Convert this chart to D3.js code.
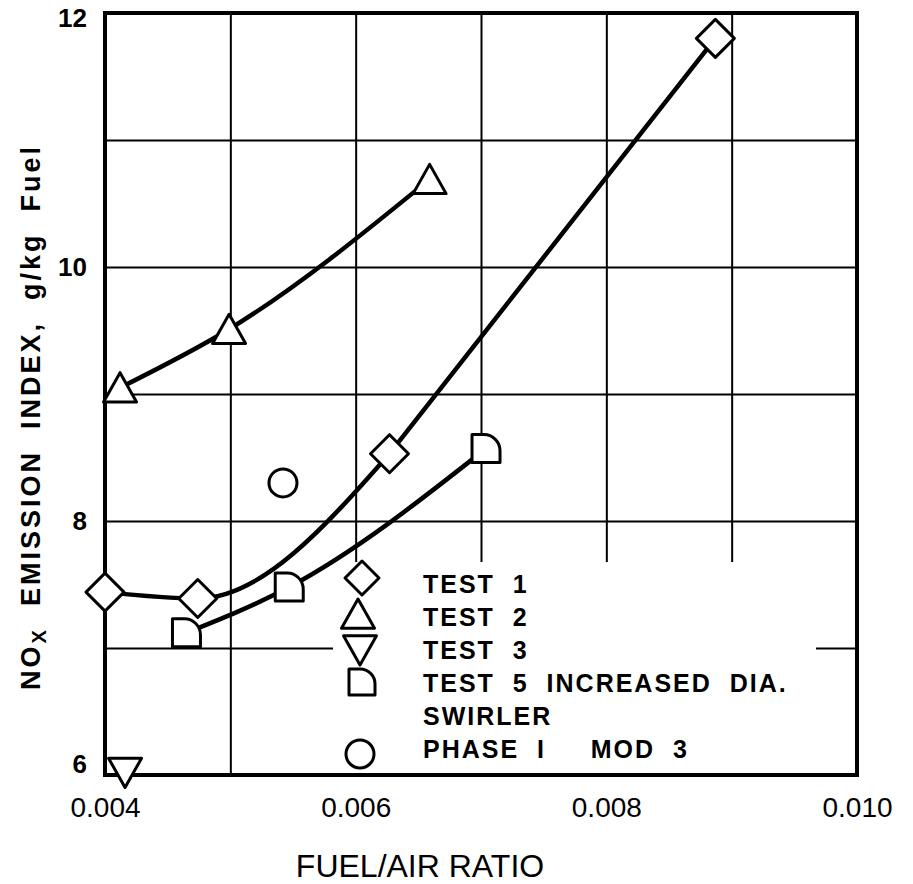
<!DOCTYPE html>
<html>
<head>
<meta charset="utf-8">
<script src="https://cdn.jsdelivr.net/npm/d3@7/dist/d3.min.js"></script>
<style>
  body { margin: 0; background: #fff; }
  text { font-family: "Liberation Sans", Arial, Helvetica, sans-serif; fill: #000; }
</style>
</head>
<body>
<svg id="chart" width="913" height="884"></svg>
<script>
// Fuel/air ratio vs NOx emission index (g/kg fuel)
const test1 = [ {far: 0.00400, ei: 7.44}, {far: 0.00474, ei: 7.39}, {far: 0.00627, ei: 8.53}, {far: 0.00887, ei: 11.80} ];
const test2 = [ {far: 0.00412, ei: 9.05}, {far: 0.00499, ei: 9.51}, {far: 0.00659, ei: 10.69} ];
const test3 = [ {far: 0.00416, ei: 6.02} ];
const test5 = [ {far: 0.00465, ei: 7.12}, {far: 0.00547, ei: 7.48}, {far: 0.00704, ei: 8.57} ];
const phase1Mod3 = [ {far: 0.00542, ei: 8.30} ];

const xGridValues = [0.004, 0.005, 0.006, 0.007, 0.008, 0.009, 0.010];
const xTickLabels = [0.004, 0.006, 0.008, 0.010];
const yGridValues = [6, 7, 8, 9, 10, 11, 12];
const yTickLabels = [6, 8, 10, 12];

const legendLabels = ["TEST  1", "TEST  2", "TEST  3", "TEST  5  INCREASED  DIA.", "SWIRLER", "PHASE  I     MOD  3"];

const svg = d3.select("#chart");
const plotL = 105, plotR = 857, plotT = 13, plotB = 775;

const x = d3.scaleLinear().domain([0.004, 0.010]).range([plotL, plotR]);
const y = d3.scaleLinear().domain([6, 12]).range([plotB, plotT]);

// grid
const grid = svg.append("g");
grid.append("g")
  .attr("transform", `translate(0,${plotB})`)
  .call(d3.axisBottom(x).tickValues(xGridValues).tickSize(-(plotB - plotT)).tickFormat(""))
  .call(g => g.select(".domain").remove())
  .call(g => g.selectAll("line").attr("stroke", "#000").attr("stroke-width", 2));
grid.append("g")
  .attr("transform", `translate(${plotL},0)`)
  .call(d3.axisLeft(y).tickValues(yGridValues).tickSize(-(plotR - plotL)).tickFormat(""))
  .call(g => g.select(".domain").remove())
  .call(g => g.selectAll("line").attr("stroke", "#000").attr("stroke-width", 2));

// legend panel masks the grid beneath it
svg.append("rect")
  .attr("x", 333).attr("y", 562).attr("width", 483).attr("height", plotB - 562)
  .attr("fill", "#fff");

// frame
svg.append("rect")
  .attr("x", plotL).attr("y", plotT).attr("width", plotR - plotL).attr("height", plotB - plotT)
  .attr("fill", "none").attr("stroke", "#000").attr("stroke-width", 4);

// tick labels
svg.append("g")
  .attr("transform", `translate(0,${plotB})`)
  .call(d3.axisBottom(x).tickValues(xTickLabels).tickSize(0).tickPadding(22).tickFormat(d3.format(".3f")))
  .call(g => g.select(".domain").remove())
  .call(g => g.selectAll("text").style("font-size", "28px").attr("fill", "#000"));

svg.append("g")
  .attr("transform", `translate(${plotL},0)`)
  .call(d3.axisLeft(y).tickValues(yTickLabels).tickSize(0).tickPadding(18).tickFormat(d3.format("d")))
  .call(g => g.select(".domain").remove())
  .call(g => g.selectAll("text")
    .style("font-size", "26px").style("font-weight", "bold").attr("fill", "#000")
    // end labels sit just inside the frame
    .attr("transform", d => d === 12 ? "translate(0,5)" : d === 6 ? "translate(0,-11)" : null));

// axis titles
svg.append("text")
  .attr("x", 420).attr("y", 877)
  .attr("text-anchor", "middle")
  .style("font-size", "32px")
  .text("FUEL/AIR RATIO");

const yTitle = svg.append("text")
  .attr("transform", "translate(40,417) rotate(-90)")
  .attr("text-anchor", "middle")
  .style("font-size", "27px").style("font-weight", "bold").style("letter-spacing", "3px")
  .style("white-space", "pre");
yTitle.append("tspan").text("NO");
yTitle.append("tspan").attr("dy", 6).style("font-size", "20px").text("X");
yTitle.append("tspan").attr("dy", -6).text("  EMISSION  INDEX,  g/kg  Fuel");

// marker shapes
const diamond = s => `M0,${-s}L${s},0L0,${s}L${-s},0Z`;
const triUp = s => `M0,${-s}L${s * 1.1},${s * 0.95}L${-s * 1.1},${s * 0.95}Z`;
const triDown = s => `M0,${s}L${s * 1.1},${-s * 0.95}L${-s * 1.1},${-s * 0.95}Z`;
const dShape = s => `M${-s},${-s}L${-0.15 * s},${-s}A${1.15 * s},${1.15 * s} 0 0 1 ${s},${0.15 * s}L${s},${s}L${-s},${s}Z`;
const circle = s => `M${s},0A${s},${s} 0 1 1 ${-s},0A${s},${s} 0 1 1 ${s},0Z`;

const smooth = d3.line().x(d => x(d.far)).y(d => y(d.ei)).curve(d3.curveMonotoneX);
const straight = d3.line().x(d => x(d.far)).y(d => y(d.ei));

function drawLine(data, gen) {
  svg.append("path")
    .datum(data)
    .attr("d", gen)
    .attr("fill", "none").attr("stroke", "#000").attr("stroke-width", 4.5)
    .attr("stroke-linecap", "round");
}
// Test 1: faired curve through the low-ratio points, straight run to the last point
drawLine(test1.slice(0, 3), smooth);
drawLine(test1.slice(2), straight);
drawLine(test2, smooth);
drawLine(test5, smooth);

function drawMarkers(data, shape, size) {
  svg.append("g").selectAll("path").data(data).join("path")
    .attr("transform", d => `translate(${x(d.far)},${y(d.ei)})`)
    .attr("d", shape(size))
    .attr("fill", "#fff").attr("stroke", "#000").attr("stroke-width", 3)
    .attr("stroke-linejoin", "round");
}
drawMarkers(test1, diamond, 19);
drawMarkers(test2, triUp, 15);
drawMarkers(test3, triDown, 15);
drawMarkers(test5, dShape, 14);
drawMarkers(phase1Mod3, circle, 14);

// legend
const legendSymbols = [
  {shape: diamond, size: 17, cx: 362, cy: 578},
  {shape: triUp, size: 15, cx: 358, cy: 614},
  {shape: triDown, size: 15, cx: 360, cy: 650},
  {shape: dShape, size: 13, cx: 362, cy: 682},
  null,
  {shape: circle, size: 14, cx: 360, cy: 754}
];
const legend = svg.append("g");
legendLabels.forEach((label, i) => {
  const sym = legendSymbols[i];
  if (sym) {
    legend.append("path")
      .attr("transform", `translate(${sym.cx},${sym.cy})`)
      .attr("d", sym.shape(sym.size))
      .attr("fill", "#fff").attr("stroke", "#000").attr("stroke-width", 3)
      .attr("stroke-linejoin", "round");
  }
  legend.append("text")
    .attr("x", 423).attr("y", 593 + i * 33)
    .style("font-size", "25px").style("font-weight", "bold").style("letter-spacing", "2px")
    .style("white-space", "pre")
    .text(label);
});
</script>
</body>
</html>
